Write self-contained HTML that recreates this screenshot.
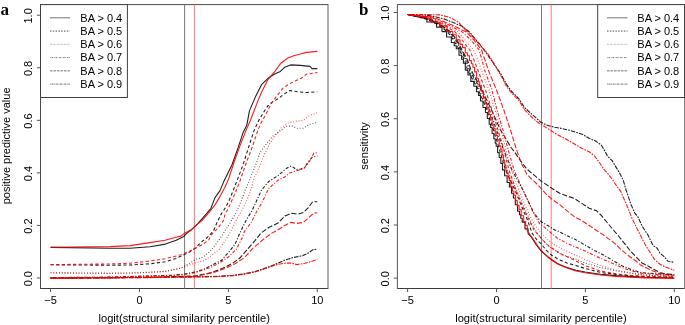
<!DOCTYPE html>
<html><head><meta charset="utf-8"><style>
html,body{margin:0;padding:0;background:#fff;}
svg{display:block;will-change:transform;}
.t{font-family:"Liberation Sans",sans-serif;font-size:11px;fill:#000;}
.lab{font-family:"Liberation Serif",serif;font-weight:bold;font-size:17px;fill:#000;}
</style></head><body>
<svg width="685" height="325" viewBox="0 0 685 325">
<rect width="685" height="325" fill="#fff"/>
<line x1="40.5" y1="4.6" x2="328.0" y2="4.6" stroke="#4a4a4a" stroke-width="1"/>
<line x1="40.5" y1="288.5" x2="328.0" y2="288.5" stroke="#3a3a3a" stroke-width="1"/>
<line x1="40.5" y1="4.1" x2="40.5" y2="289.0" stroke="#4a4a4a" stroke-width="1"/>
<line x1="328.0" y1="4.1" x2="328.0" y2="289.0" stroke="#606060" stroke-width="1"/>
<line x1="50.55" y1="288.5" x2="50.55" y2="292.1" stroke="#555" stroke-width="1"/>
<text x="50.55" y="303.5" text-anchor="middle" class="t">−5</text>
<line x1="139.45" y1="288.5" x2="139.45" y2="292.1" stroke="#555" stroke-width="1"/>
<text x="139.45" y="303.5" text-anchor="middle" class="t">0</text>
<line x1="228.35" y1="288.5" x2="228.35" y2="292.1" stroke="#555" stroke-width="1"/>
<text x="228.35" y="303.5" text-anchor="middle" class="t">5</text>
<line x1="317.25" y1="288.5" x2="317.25" y2="292.1" stroke="#555" stroke-width="1"/>
<text x="317.25" y="303.5" text-anchor="middle" class="t">10</text>
<line x1="36.9" y1="278.00" x2="40.5" y2="278.00" stroke="#555" stroke-width="1"/>
<text transform="translate(32.0,278.70) rotate(-90)" x="0" y="0" text-anchor="middle" class="t">0.0</text>
<line x1="36.9" y1="225.44" x2="40.5" y2="225.44" stroke="#555" stroke-width="1"/>
<text transform="translate(32.0,226.14) rotate(-90)" x="0" y="0" text-anchor="middle" class="t">0.2</text>
<line x1="36.9" y1="172.88" x2="40.5" y2="172.88" stroke="#555" stroke-width="1"/>
<text transform="translate(32.0,173.58) rotate(-90)" x="0" y="0" text-anchor="middle" class="t">0.4</text>
<line x1="36.9" y1="120.32" x2="40.5" y2="120.32" stroke="#555" stroke-width="1"/>
<text transform="translate(32.0,121.02) rotate(-90)" x="0" y="0" text-anchor="middle" class="t">0.6</text>
<line x1="36.9" y1="67.76" x2="40.5" y2="67.76" stroke="#555" stroke-width="1"/>
<text transform="translate(32.0,68.46) rotate(-90)" x="0" y="0" text-anchor="middle" class="t">0.8</text>
<line x1="36.9" y1="15.20" x2="40.5" y2="15.20" stroke="#555" stroke-width="1"/>
<text transform="translate(32.0,15.90) rotate(-90)" x="0" y="0" text-anchor="middle" class="t">1.0</text>
<text x="184.25" y="321.6" text-anchor="middle" class="t" style="font-size:11.15px">logit(structural similarity percentile)</text>
<text transform="translate(10.0,145.9) rotate(-90)" text-anchor="middle" class="t">positive predictive value</text>
<text x="0.5" y="14.8" class="lab">a</text>
<line x1="397.4" y1="4.6" x2="684.5" y2="4.6" stroke="#4a4a4a" stroke-width="1"/>
<line x1="397.4" y1="288.5" x2="684.5" y2="288.5" stroke="#3a3a3a" stroke-width="1"/>
<line x1="397.4" y1="4.1" x2="397.4" y2="289.0" stroke="#555555" stroke-width="1"/>
<line x1="684.5" y1="4.1" x2="684.5" y2="289.0" stroke="#808080" stroke-width="1"/>
<line x1="407.60" y1="288.5" x2="407.60" y2="292.1" stroke="#555" stroke-width="1"/>
<text x="407.60" y="303.5" text-anchor="middle" class="t">−5</text>
<line x1="496.50" y1="288.5" x2="496.50" y2="292.1" stroke="#555" stroke-width="1"/>
<text x="496.50" y="303.5" text-anchor="middle" class="t">0</text>
<line x1="585.40" y1="288.5" x2="585.40" y2="292.1" stroke="#555" stroke-width="1"/>
<text x="585.40" y="303.5" text-anchor="middle" class="t">5</text>
<line x1="674.30" y1="288.5" x2="674.30" y2="292.1" stroke="#555" stroke-width="1"/>
<text x="674.30" y="303.5" text-anchor="middle" class="t">10</text>
<line x1="393.79999999999995" y1="278.10" x2="397.4" y2="278.10" stroke="#555" stroke-width="1"/>
<text transform="translate(389.0,278.80) rotate(-90)" x="0" y="0" text-anchor="middle" class="t">0.0</text>
<line x1="393.79999999999995" y1="224.98" x2="397.4" y2="224.98" stroke="#555" stroke-width="1"/>
<text transform="translate(389.0,225.68) rotate(-90)" x="0" y="0" text-anchor="middle" class="t">0.2</text>
<line x1="393.79999999999995" y1="171.86" x2="397.4" y2="171.86" stroke="#555" stroke-width="1"/>
<text transform="translate(389.0,172.56) rotate(-90)" x="0" y="0" text-anchor="middle" class="t">0.4</text>
<line x1="393.79999999999995" y1="118.74" x2="397.4" y2="118.74" stroke="#555" stroke-width="1"/>
<text transform="translate(389.0,119.44) rotate(-90)" x="0" y="0" text-anchor="middle" class="t">0.6</text>
<line x1="393.79999999999995" y1="65.62" x2="397.4" y2="65.62" stroke="#555" stroke-width="1"/>
<text transform="translate(389.0,66.32) rotate(-90)" x="0" y="0" text-anchor="middle" class="t">0.8</text>
<line x1="393.79999999999995" y1="12.50" x2="397.4" y2="12.50" stroke="#555" stroke-width="1"/>
<text transform="translate(389.0,13.20) rotate(-90)" x="0" y="0" text-anchor="middle" class="t">1.0</text>
<text x="540.95" y="321.6" text-anchor="middle" class="t" style="font-size:11.15px">logit(structural similarity percentile)</text>
<text transform="translate(368.0,146) rotate(-90)" text-anchor="middle" class="t">sensitivity</text>
<text x="359" y="14.8" class="lab">b</text>
<line x1="184.6" y1="4.6" x2="184.6" y2="288.5" stroke="#7a7a7a" stroke-width="1"/>
<line x1="194.4" y1="4.6" x2="194.4" y2="288.5" stroke="#ff7a7a" stroke-width="1"/>
<line x1="541.5" y1="4.6" x2="541.5" y2="288.5" stroke="#7a7a7a" stroke-width="1"/>
<line x1="551.2" y1="4.6" x2="551.2" y2="288.5" stroke="#ff7a7a" stroke-width="1"/>
<polyline points="50.6,278.4 195.0,276.8 218.0,276.4 233.5,275.2 245.0,273.7 255.0,271.6 267.0,267.6 277.0,263.6 285.0,260.0 293.0,257.6 303.0,255.6 309.0,252.6 313.0,249.6 317.3,249.2" fill="none" stroke="#000" stroke-width="1.1" stroke-opacity="0.88" stroke-linejoin="round" stroke-dasharray="1.7,1.1,4.5,1.1"/>
<polyline points="50.6,278.1 150.0,277.4 195.0,276.0 210.4,272.9 222.7,268.3 231.9,263.7 239.6,258.3 245.0,252.1 255.0,240.6 261.0,233.1 268.8,227.5 278.1,222.9 285.0,216.0 291.9,213.2 297.7,214.1 303.5,212.5 308.1,207.9 312.7,201.7 317.3,201.7" fill="none" stroke="#000" stroke-width="1.1" stroke-opacity="0.88" stroke-linejoin="round" stroke-dasharray="5.2,1.9"/>
<polyline points="50.6,277.6 110.0,277.1 150.0,275.9 173.1,275.3 183.8,274.1 196.2,271.8 204.2,269.1 211.9,265.2 221.2,260.6 228.8,252.1 235.0,244.4 239.6,233.6 246.5,219.4 251.9,211.0 256.5,201.0 261.5,190.1 268.8,181.4 278.1,175.6 285.5,169.0 290.4,166.2 293.9,167.6 295.9,169.7 300.8,169.0 304.2,167.6 306.3,164.8 309.8,160.0 312.5,157.2 317.3,155.9" fill="none" stroke="#000" stroke-width="1.1" stroke-opacity="0.88" stroke-linejoin="round" stroke-dasharray="1.1,1.7,3.2,1.7"/>
<polyline points="50.6,272.8 110.0,273.2 130.0,273.0 150.0,272.2 165.4,271.3 180.8,268.1 190.0,263.1 195.0,259.6 200.8,258.1 204.2,256.0 209.4,252.1 211.9,249.1 218.1,241.4 224.2,232.1 230.4,222.5 236.5,211.8 241.2,201.0 245.8,188.7 249.3,180.7 256.7,162.2 260.0,152.3 266.5,143.7 272.9,136.1 280.5,130.8 285.8,126.4 292.3,126.0 296.6,128.2 303.1,128.2 309.5,124.3 314.9,122.8 317.3,122.6" fill="none" stroke="#000" stroke-width="1.1" stroke-opacity="0.704" stroke-linejoin="round" stroke-dasharray="0.9,1.9"/>
<polyline points="50.6,264.8 110.0,265.2 130.0,265.0 150.0,263.8 165.4,261.8 176.2,258.4 183.8,254.8 190.0,251.8 195.0,248.3 201.2,242.1 207.3,237.5 213.6,230.6 217.0,222.6 221.2,214.1 225.8,207.1 229.6,199.4 234.2,187.9 237.0,180.7 243.1,164.7 249.3,145.0 254.2,130.2 259.2,119.6 263.6,112.3 267.9,105.9 272.2,102.1 278.7,98.3 284.1,94.0 290.0,90.5 298.1,91.9 306.7,92.5 317.3,91.9" fill="none" stroke="#000" stroke-width="1.1" stroke-opacity="0.88" stroke-linejoin="round" stroke-dasharray="3.2,2.4"/>
<polyline points="50.6,247.4 110.0,248.2 130.0,248.2 150.0,246.7 165.4,244.1 176.2,240.2 183.8,236.4 187.0,233.1 191.5,229.7 197.9,223.7 204.4,216.1 210.8,208.6 215.0,197.6 220.0,190.6 223.8,181.6 232.0,164.7 238.2,147.4 243.1,132.6 246.8,125.2 249.5,110.6 255.1,97.6 261.5,84.7 268.0,78.3 274.5,74.0 279.8,71.8 285.2,66.9 290.6,64.9 300.3,65.4 310.0,66.4 312.1,68.6 317.3,68.6" fill="none" stroke="#000" stroke-width="1.1" stroke-opacity="0.88" stroke-linejoin="round" />
<polyline points="50.6,278.5 195.0,277.0 218.0,276.6 233.5,275.6 245.0,274.1 255.0,272.0 267.0,268.0 277.0,264.6 285.0,263.2 291.0,263.0 297.0,264.6 305.0,263.2 311.0,261.6 317.3,259.6" fill="none" stroke="#f00" stroke-width="1.1" stroke-opacity="0.9" stroke-linejoin="round" stroke-dasharray="1.7,1.1,4.5,1.1"/>
<polyline points="50.6,278.2 150.0,277.6 195.0,276.6 215.0,272.1 225.8,268.3 235.0,263.7 244.5,257.6 252.5,248.6 258.0,244.1 263.0,239.6 271.0,233.6 278.1,229.8 285.0,225.2 290.8,222.4 296.5,223.4 303.5,222.4 309.2,217.1 313.8,213.2 317.3,212.8" fill="none" stroke="#f00" stroke-width="1.1" stroke-opacity="0.9" stroke-linejoin="round" stroke-dasharray="5.2,1.9"/>
<polyline points="50.6,277.8 110.0,277.4 150.0,276.2 173.0,275.6 184.0,274.6 196.0,272.4 210.4,267.5 219.6,262.9 228.8,256.8 236.5,249.1 242.7,236.8 244.2,231.8 251.2,222.5 256.5,211.8 261.2,204.1 264.2,197.9 268.8,188.3 278.1,180.2 284.2,177.3 289.7,173.1 295.2,171.1 300.8,169.7 304.2,168.3 307.7,163.5 311.2,158.6 313.9,153.1 317.3,152.8" fill="none" stroke="#f00" stroke-width="1.1" stroke-opacity="0.9" stroke-linejoin="round" stroke-dasharray="1.1,1.7,3.2,1.7"/>
<polyline points="50.6,273.0 110.0,273.4 130.0,273.2 150.0,272.4 165.4,271.5 180.8,268.1 190.0,265.0 195.0,262.9 204.2,260.6 211.9,255.2 219.6,249.1 225.8,239.8 230.4,232.1 235.0,222.5 241.2,211.8 246.5,201.0 251.9,187.1 253.0,180.7 260.4,164.7 264.3,154.4 269.7,143.7 275.1,136.1 281.5,127.5 288.0,123.2 296.6,121.1 303.1,120.4 309.5,115.7 316.0,113.1 317.3,112.9" fill="none" stroke="#f00" stroke-width="1.1" stroke-opacity="0.72" stroke-linejoin="round" stroke-dasharray="0.9,1.9"/>
<polyline points="50.6,264.6 110.0,264.0 130.0,263.2 150.0,261.0 165.4,258.7 180.8,254.8 190.0,251.0 197.7,247.1 202.8,244.4 208.8,239.8 211.5,234.6 218.0,228.1 223.4,220.6 225.0,214.8 229.6,205.6 234.5,194.6 239.4,182.6 245.6,164.7 253.0,145.0 257.9,130.2 261.5,122.0 265.8,114.5 271.2,103.7 276.6,96.2 283.0,88.2 288.4,84.3 294.9,81.1 301.3,78.3 306.7,74.0 311.0,73.6 317.3,72.5" fill="none" stroke="#f00" stroke-width="1.1" stroke-opacity="0.9" stroke-linejoin="round" stroke-dasharray="3.2,2.4"/>
<polyline points="50.6,247.2 110.0,246.6 130.0,245.6 150.0,242.6 165.0,240.2 176.0,237.2 181.0,236.1 184.0,233.6 190.0,230.6 193.6,227.6 202.2,220.4 208.7,212.9 215.2,204.6 220.5,195.6 224.8,187.6 228.0,180.6 234.5,161.0 239.4,147.4 245.6,131.4 250.5,120.3 254.2,110.5 258.0,100.6 261.5,92.3 268.0,79.4 274.5,71.8 280.9,63.2 287.4,58.3 293.8,55.7 300.3,54.0 306.8,52.4 317.3,51.4" fill="none" stroke="#f00" stroke-width="1.1" stroke-opacity="0.9" stroke-linejoin="round" />
<polyline points="407.6,14.5 425.0,15.0 435.3,16.8 444.6,19.1 453.8,22.8 462.1,26.3 469.5,32.0 479.7,44.2 487.1,54.0 494.5,65.0 500.6,73.6 506.8,84.9 511.7,91.5 519.0,98.8 524.5,107.5 531.0,113.5 536.5,118.3 540.5,122.0 547.2,125.3 554.6,127.2 562.0,128.5 569.4,130.2 576.8,132.6 582.9,134.6 589.1,138.3 595.2,140.8 601.2,145.0 604.9,151.1 607.4,156.0 612.3,160.9 616.0,167.1 619.7,173.2 623.4,180.6 625.8,189.2 628.3,196.6 630.8,204.0 634.5,212.6 638.0,217.0 642.2,226.3 647.7,234.6 653.0,245.5 657.2,248.3 659.9,253.2 664.1,256.6 668.2,261.5 674.3,262.2" fill="none" stroke="#000" stroke-width="1.1" stroke-opacity="0.88" stroke-linejoin="round" stroke-dasharray="1.7,1.1,4.5,1.1"/>
<polyline points="407.6,14.5 424.0,17.0 432.0,20.0 441.0,25.0 450.5,31.8 457.0,40.0 462.0,50.0 467.5,60.0 471.0,70.0 482.0,90.0 491.5,110.0 500.5,130.0 511.4,148.0 514.6,152.0 519.4,159.2 526.8,169.1 534.2,175.2 541.5,181.4 548.9,186.3 555.0,190.5 559.7,193.3 567.1,196.0 574.5,198.5 581.8,203.4 589.2,208.3 596.6,210.8 601.5,215.7 607.7,223.1 613.8,230.5 618.5,236.0 625.0,244.2 631.2,251.9 637.3,258.1 641.9,262.9 647.5,265.6 653.0,269.1 659.9,272.5 665.5,273.9 674.3,274.6" fill="none" stroke="#000" stroke-width="1.1" stroke-opacity="0.88" stroke-linejoin="round" stroke-dasharray="5.2,1.9"/>
<polyline points="407.6,14.5 422.0,17.0 430.5,20.0 440.5,25.0 449.5,31.8 456.0,40.0 461.0,50.0 466.5,60.0 469.5,70.0 481.0,90.0 489.5,110.0 496.5,130.0 503.0,148.0 512.0,170.0 523.0,190.0 530.0,205.0 533.0,212.0 539.5,220.0 542.1,222.3 549.5,226.6 554.8,230.0 560.0,232.0 564.6,234.5 574.5,239.0 585.0,245.0 594.2,250.4 603.5,255.0 612.7,260.4 621.9,265.8 631.2,269.6 641.9,272.7 674.3,275.0" fill="none" stroke="#000" stroke-width="1.1" stroke-opacity="0.88" stroke-linejoin="round" stroke-dasharray="1.1,1.7,3.2,1.7"/>
<polyline points="407.6,14.5 421.0,17.0 429.5,20.0 439.5,25.0 448.5,31.8 455.0,40.0 460.5,50.0 465.5,60.0 468.5,70.0 479.5,90.0 488.0,110.0 494.5,130.0 500.5,148.0 507.0,170.0 516.5,190.0 523.0,205.0 530.0,220.0 535.0,230.0 541.0,238.0 548.5,246.0 557.7,252.5 566.9,256.4 576.2,259.2 585.0,263.0 600.4,267.5 615.8,270.8 631.2,273.3 644.2,275.2 674.3,276.6" fill="none" stroke="#000" stroke-width="1.1" stroke-opacity="0.704" stroke-linejoin="round" stroke-dasharray="0.9,1.9"/>
<polyline points="407.6,14.5 420.0,17.0 428.5,20.0 438.5,25.0 447.5,31.8 453.5,40.0 459.5,50.0 464.5,60.0 467.5,70.0 478.5,90.0 487.0,110.0 493.5,130.0 499.0,148.0 505.5,170.0 515.0,190.0 521.0,205.0 527.5,220.0 532.0,233.0 537.0,240.0 541.3,244.0 546.0,250.0 552.0,255.5 560.0,260.0 567.0,263.0 576.0,265.5 585.0,268.5 600.4,272.4 615.8,274.4 631.2,275.8 644.2,276.6 674.3,277.4" fill="none" stroke="#000" stroke-width="1.1" stroke-opacity="0.88" stroke-linejoin="round" stroke-dasharray="3.2,2.4"/>
<polyline points="407.6,14.5 418.0,17.0 421.0,17.0 421.0,18.0 426.9,18.0 426.9,22.0 436.5,22.0 436.5,27.1 442.0,27.1 442.0,31.6 446.6,31.6 446.6,37.0 451.3,37.0 451.3,42.5 454.2,42.5 454.2,45.8 456.3,45.8 456.3,48.8 459.0,48.8 459.0,55.2 461.6,55.2 461.6,59.2 463.4,59.2 463.4,63.2 465.3,63.2 465.3,70.1 467.9,70.1 467.9,75.0 470.8,75.0 470.8,81.4 473.8,81.4 473.8,86.3 476.5,86.3 476.5,91.8 478.5,91.8 478.5,95.4 480.5,95.4 480.5,101.0 483.0,101.0 483.0,107.5 485.5,107.5 485.5,112.5 487.3,112.5 487.3,118.5 489.2,118.5 489.2,124.2 490.6,124.2 490.6,127.5 492.1,127.5 492.1,133.5 493.8,133.5 493.8,138.8 495.2,138.8 495.2,143.1 496.2,143.1 496.2,146.2 497.6,146.2 497.6,152.6 499.2,152.6 499.2,157.5 500.8,157.5 500.8,163.4 502.5,163.4 502.5,169.9 504.6,169.9 504.6,175.8 507.1,175.8 507.1,182.5 509.4,182.5 509.4,187.0 511.5,187.0 511.5,193.2 513.4,193.2 513.4,198.0 515.3,198.0 515.3,204.8 517.6,204.8 517.6,211.3 519.5,211.3 519.5,214.7 520.8,214.7 520.8,218.2 522.2,218.2 522.2,222.1 525.0,222.1 525.0,228.9 528.1,228.9 528.1,233.7 531.0,236.5 536.0,244.5 541.0,250.8 548.5,257.3 552.2,260.0 557.7,263.6 560.0,264.7 567.0,267.5 576.0,270.2 585.0,272.0 600.4,274.2 615.8,275.6 631.2,276.6 644.2,277.3 674.3,278.0" fill="none" stroke="#000" stroke-width="1.1" stroke-opacity="0.88" stroke-linejoin="round" />
<polyline points="407.6,14.5 426.1,14.5 439.9,14.9 449.2,17.2 458.4,22.0 463.0,27.5 472.0,36.2 481.0,46.2 488.5,54.7 495.0,65.2 500.6,75.1 506.8,86.6 511.7,93.2 519.0,100.7 524.5,109.7 529.2,114.7 534.5,119.7 539.1,123.3 549.7,129.7 557.1,134.6 564.5,138.3 573.1,143.2 581.7,148.2 589.1,151.8 594.0,155.5 598.9,161.7 603.8,169.1 607.4,173.2 612.3,179.4 617.2,186.8 620.9,191.7 624.6,200.3 628.3,208.9 632.0,218.3 636.6,227.7 642.2,238.8 646.1,246.2 650.2,252.5 654.4,259.4 659.9,264.2 665.5,267.0 674.3,270.2" fill="none" stroke="#f00" stroke-width="1.1" stroke-opacity="0.9" stroke-linejoin="round" stroke-dasharray="1.7,1.1,4.5,1.1"/>
<polyline points="407.6,14.5 432.0,17.0 440.0,20.0 452.0,25.0 466.0,31.8 474.0,40.0 481.5,50.0 485.0,60.0 488.3,70.0 496.5,90.0 503.8,110.0 510.5,130.0 516.0,148.0 519.0,157.0 521.8,164.2 526.8,174.0 530.0,177.5 534.2,181.4 538.0,185.0 541.0,188.5 547.0,195.0 552.3,199.5 559.7,204.6 567.1,210.8 574.5,216.9 581.8,220.6 589.2,225.5 596.6,230.5 603.5,235.0 609.6,239.6 615.8,244.2 621.9,250.4 629.6,256.5 635.8,261.0 640.5,264.9 646.1,267.7 651.6,270.5 658.5,273.2 666.9,274.6 674.3,275.3" fill="none" stroke="#f00" stroke-width="1.1" stroke-opacity="0.9" stroke-linejoin="round" stroke-dasharray="5.2,1.9"/>
<polyline points="407.6,14.5 430.0,17.0 438.0,20.0 449.0,25.0 462.0,31.8 471.0,40.0 479.1,50.0 482.0,60.0 484.6,70.0 492.0,90.0 497.0,110.0 503.0,130.0 507.7,148.0 514.0,170.0 522.8,190.0 530.0,205.0 535.9,216.8 539.6,223.5 544.5,227.2 550.0,232.0 557.2,238.0 567.1,243.5 576.9,247.5 585.0,251.0 594.2,255.5 603.5,259.5 612.7,263.5 621.9,267.5 631.2,270.8 641.9,273.3 674.3,276.0" fill="none" stroke="#f00" stroke-width="1.1" stroke-opacity="0.9" stroke-linejoin="round" stroke-dasharray="1.1,1.7,3.2,1.7"/>
<polyline points="407.6,14.5 428.0,17.0 436.0,20.0 446.0,25.0 458.0,31.8 465.0,40.0 473.5,50.0 478.0,60.0 481.2,70.0 489.0,90.0 495.0,110.0 501.0,130.0 505.5,148.0 511.5,170.0 519.0,190.0 525.0,205.0 532.0,220.0 537.0,228.0 541.5,233.5 548.0,240.0 555.0,245.0 563.0,249.5 572.0,253.5 585.0,259.5 600.4,265.5 615.8,270.0 631.2,272.8 644.2,274.8 674.3,276.6" fill="none" stroke="#f00" stroke-width="1.1" stroke-opacity="0.72" stroke-linejoin="round" stroke-dasharray="0.9,1.9"/>
<polyline points="407.6,14.5 426.0,17.0 434.0,20.0 444.0,25.0 455.0,31.8 462.0,40.0 469.8,50.0 474.0,60.0 477.8,70.0 485.5,90.0 492.0,110.0 498.0,130.0 503.5,148.0 509.0,170.0 516.0,190.0 522.0,205.0 529.0,220.0 534.0,230.0 541.0,238.0 546.0,243.5 551.0,247.5 556.6,251.0 563.0,255.0 570.0,258.0 585.0,265.5 600.4,271.0 615.8,273.8 631.2,275.5 644.2,276.4 674.3,277.5" fill="none" stroke="#f00" stroke-width="1.1" stroke-opacity="0.9" stroke-linejoin="round" stroke-dasharray="3.2,2.4"/>
<polyline points="407.6,14.5 423.0,17.0 425.7,17.0 425.7,18.0 431.3,18.0 431.3,22.3 439.6,22.3 439.6,25.9 447.1,25.9 447.1,31.5 452.8,31.5 452.8,34.8 456.3,34.8 456.3,39.9 460.0,39.9 460.0,44.4 462.5,44.4 462.5,47.6 465.3,47.6 465.3,52.7 467.4,52.7 467.4,55.8 469.5,55.8 469.5,60.5 471.4,60.5 471.4,63.8 472.9,63.8 472.9,67.2 474.6,67.2 474.6,71.9 476.6,71.9 476.6,78.2 478.4,78.2 478.4,81.7 479.7,81.7 479.7,85.6 481.4,85.6 481.4,91.1 483.5,91.1 483.5,97.9 485.4,97.9 485.4,103.2 487.0,103.2 487.0,107.8 488.9,107.8 488.9,114.7 490.5,114.7 490.5,117.9 492.1,117.9 492.1,124.3 493.8,124.3 493.8,128.5 495.1,128.5 495.1,132.0 496.2,132.0 496.2,135.5 497.5,135.5 497.5,139.7 499.2,139.7 499.2,146.0 500.9,146.0 500.9,149.7 502.0,149.7 502.0,155.1 503.4,155.1 503.4,160.6 504.7,160.6 504.7,165.1 505.9,165.1 505.9,170.3 507.1,170.3 507.1,173.5 508.1,173.5 508.1,176.8 509.2,176.8 509.2,180.6 510.7,180.6 510.7,186.3 512.4,186.3 512.4,191.0 513.9,191.0 513.9,195.3 515.6,195.3 515.6,200.6 517.3,200.6 517.3,205.4 519.1,205.4 519.1,209.6 521.2,209.6 521.2,215.8 523.7,215.8 523.7,221.6 525.6,221.6 525.6,225.6 527.3,225.6 527.3,230.9 532.5,238.0 537.5,245.5 541.5,251.0 548.5,257.5 552.2,260.5 557.7,264.0 560.0,265.0 567.0,268.0 576.0,271.0 585.0,272.8 600.4,275.0 615.8,276.4 631.2,277.3 644.2,277.9 674.3,278.5" fill="none" stroke="#f00" stroke-width="1.1" stroke-opacity="0.9" stroke-linejoin="round" />
<rect x="40.5" y="4.6" width="86.9" height="92.9" fill="#fff" stroke="#404040" stroke-width="1"/>
<line x1="50" y1="17.80" x2="70" y2="17.80" stroke="#000" stroke-width="0.55" />
<text x="80.3" y="21.60" class="t">BA &gt; 0.4</text>
<line x1="50" y1="31.06" x2="70" y2="31.06" stroke="#000" stroke-width="0.7" stroke-dasharray="1.5,1.3"/>
<text x="80.3" y="34.86" class="t">BA &gt; 0.5</text>
<line x1="50" y1="44.32" x2="70" y2="44.32" stroke="#000" stroke-width="0.55" stroke-dasharray="0.7,0.7" stroke-opacity="0.7"/>
<text x="80.3" y="48.12" class="t">BA &gt; 0.6</text>
<line x1="50" y1="57.58" x2="70" y2="57.58" stroke="#000" stroke-width="0.55" stroke-dasharray="0.6,1.0,1.5,0.75"/>
<text x="80.3" y="61.38" class="t">BA &gt; 0.7</text>
<line x1="50" y1="70.84" x2="70" y2="70.84" stroke="#000" stroke-width="0.55" stroke-dasharray="2.6,0.9"/>
<text x="80.3" y="74.64" class="t">BA &gt; 0.8</text>
<line x1="50" y1="84.10" x2="70" y2="84.10" stroke="#000" stroke-width="0.55" stroke-dasharray="0.8,0.6,2.2,0.6"/>
<text x="80.3" y="87.90" class="t">BA &gt; 0.9</text>
<rect x="597.7" y="4.6" width="86.79999999999995" height="92.9" fill="#fff" stroke="#404040" stroke-width="1"/>
<line x1="607" y1="17.80" x2="627.5" y2="17.80" stroke="#000" stroke-width="0.55" />
<text x="637.3" y="21.60" class="t">BA &gt; 0.4</text>
<line x1="607" y1="31.06" x2="627.5" y2="31.06" stroke="#000" stroke-width="0.7" stroke-dasharray="1.5,1.3"/>
<text x="637.3" y="34.86" class="t">BA &gt; 0.5</text>
<line x1="607" y1="44.32" x2="627.5" y2="44.32" stroke="#000" stroke-width="0.55" stroke-dasharray="0.7,0.7" stroke-opacity="0.7"/>
<text x="637.3" y="48.12" class="t">BA &gt; 0.6</text>
<line x1="607" y1="57.58" x2="627.5" y2="57.58" stroke="#000" stroke-width="0.55" stroke-dasharray="0.6,1.0,1.5,0.75"/>
<text x="637.3" y="61.38" class="t">BA &gt; 0.7</text>
<line x1="607" y1="70.84" x2="627.5" y2="70.84" stroke="#000" stroke-width="0.55" stroke-dasharray="2.6,0.9"/>
<text x="637.3" y="74.64" class="t">BA &gt; 0.8</text>
<line x1="607" y1="84.10" x2="627.5" y2="84.10" stroke="#000" stroke-width="0.55" stroke-dasharray="0.8,0.6,2.2,0.6"/>
<text x="637.3" y="87.90" class="t">BA &gt; 0.9</text>
</svg>
</body></html>
